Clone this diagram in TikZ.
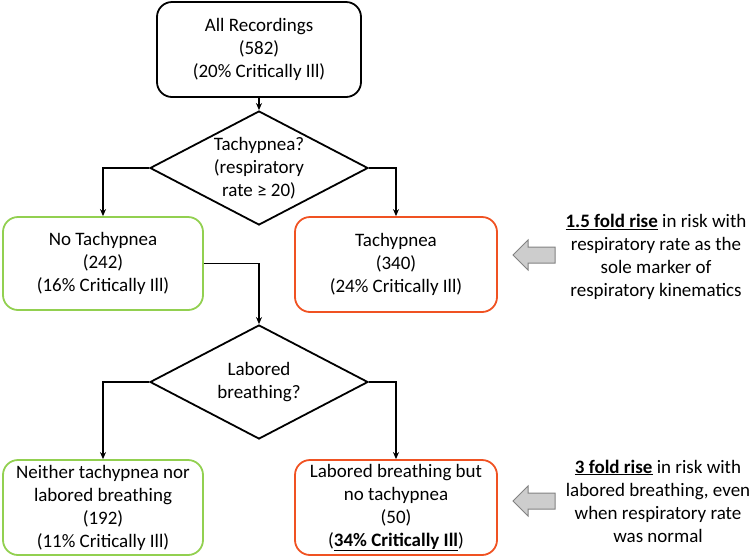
\documentclass[tikz,border=0pt]{standalone}
\usepackage{fontspec}
\setmainfont{Carlito}
\usetikzlibrary{shapes.geometric,arrows.meta}
\definecolor{okgreen}{RGB}{146,208,80}
\definecolor{riskred}{RGB}{240,82,34}
\definecolor{arrowfill}{RGB}{205,205,205}
\definecolor{arrowline}{RGB}{130,130,130}
\tikzset{
  txt/.style={font=\fontsize{19}{23}\selectfont, align=center, inner sep=0pt},
  boxbase/.style={rounded corners=15pt, line width=1.8pt, txt},
  blackbox/.style={boxbase, draw=black},
  greenbox/.style={boxbase, draw=okgreen},
  redbox/.style={boxbase, draw=riskred},
  dia/.style={diamond, draw=black, line width=1.8pt, inner sep=0pt},
  conn/.style={line width=1.8pt, -{Stealth[length=7pt,width=6pt]}},
  grayarrow/.style={draw=arrowline, fill=arrowfill, line width=1pt, line join=miter},
}
\begin{document}
\begin{tikzpicture}[x=1pt,y=-1pt]
\path[use as bounding box] (0,0) rectangle (750,558);

\node[blackbox, minimum width=204pt, minimum height=95pt] (top) at (259,49.5)
  {All Recordings\\(582)\\(20\% Critically Ill)};

\node[dia, minimum width=218pt, minimum height=114pt] (d1) at (259,168) {};
\node[txt] (d1t) at (259,168) {Tachypnea?\\(respiratory\\rate ≥ 20)};

\node[greenbox, minimum width=200pt, minimum height=93pt] (notach) at (103,263.5)
  {No Tachypnea\\(242)\\(16\% Critically Ill)};
\node[redbox, minimum width=202pt, minimum height=95pt] (tach) at (396,264.5)
  {Tachypnea\\(340)\\(24\% Critically Ill)};

\node[dia, minimum width=218pt, minimum height=114pt] (d2) at (259,382) {};
\node[txt] (d2t) at (259,382) {Labored\\breathing?};

\node[greenbox, minimum width=200pt, minimum height=95pt] (neither) at (103,507.5)
  {Neither tachypnea nor\\labored breathing\\(192)\\(11\% Critically Ill)};
\node[redbox, minimum width=202pt, minimum height=95pt] (lab) at (396,507.5)
  {Labored breathing but\\no tachypnea\\(50)\\(\underline{\textbf{34\% Critically Ill}})};

\draw[conn] (top.south) -- (d1.north);
\draw[conn] (d1.west) -| (notach.north);
\draw[conn] (d1.east) -| (tach.north);
\draw[conn] (notach.east) -| (d2.north);
\draw[conn] (d2.west) -| (neither.north);
\draw[conn] (d2.east) -| (lab.north);

% gray arrows
\draw[grayarrow] (513,255) -- (528,240) -- (528,247) -- (555,247) -- (555,263) -- (528,263) -- (528,270) -- cycle;
\draw[grayarrow] (513,501) -- (528,486) -- (528,493) -- (555,493) -- (555,509) -- (528,509) -- (528,516) -- cycle;

\node[txt] (note1) at (656,257)
  {\underline{\textbf{1.5 fold rise}} in risk with\\respiratory rate as the\\sole marker of\\respiratory kinematics};
\node[txt] (note2) at (658,501)
  {\underline{\textbf{3 fold rise}} in risk with\\labored breathing, even\\when respiratory rate\\was normal};
\end{tikzpicture}
\end{document}
